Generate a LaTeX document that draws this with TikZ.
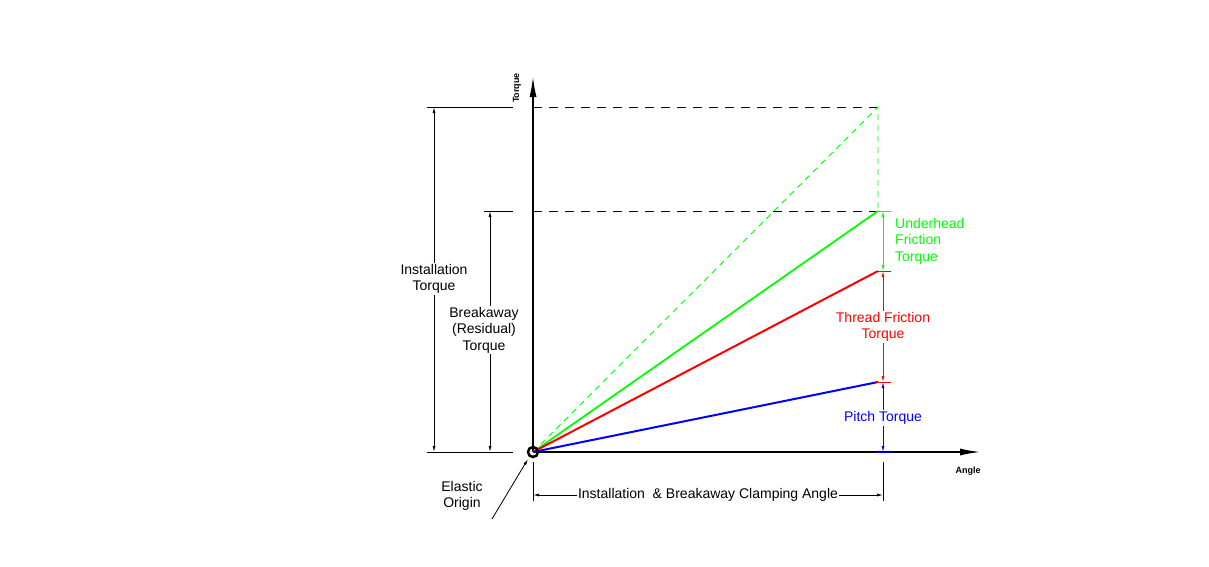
\documentclass[tikz,border=0pt]{standalone}
\usepackage{fontspec}
\setmainfont{Liberation Sans}
\usetikzlibrary{arrows.meta}

\begin{document}
\begin{tikzpicture}[x=1pt, y=-1pt,
   axis/.style = {line width=2.2pt, -{Latex[length=22pt,width=7pt]}},
    dim/.style = {line width=0.8pt, {Latex[length=6pt,width=3pt]}-{Latex[length=6pt,width=3pt]}},
    ext/.style = {line width=0.8pt},
   tick/.style = {line width=0.8pt},
    txt/.style = {font=\fontsize{14}{16.5}\selectfont, align=center,
                  inner sep=1pt},
   ctxt/.style = {txt, fill=white},
  small/.style = {font=\bfseries\fontsize{9}{10}\selectfont, inner sep=0pt}
                    ]
\useasboundingbox (0,0) rectangle (1209,566);
% axes
\coordinate (O)    at (533,452);
\coordinate (ytop) at (533,75);
\coordinate (xend) at (982,452);
\draw[axis] (O) -- (ytop);
\draw[axis] (O) -- (xend);
\node(torque) [small, rotate=90] at (517,88) {Torque};
\node(angle)  [small] at (968,471) {Angle};
% torque levels
\coordinate (inst) at (878,107);
\coordinate (brk)  at (878,211);
\coordinate (thr)  at (878,271);
\coordinate (pit)  at (878,382);
\draw[dashed, dash pattern=on 9pt off 7pt] (O |- inst) -- (inst);
\draw[dashed, dash pattern=on 9pt off 7pt] (O |- brk) -- (brk);
\draw[green, dashed, dash pattern=on 6pt off 5pt, line width=0.8pt] (O) -- (inst) -- (brk);
\draw[green, line width=1.8pt] (O) -- (brk);
\draw[red,   line width=2pt] (O) -- (thr);
\draw[blue,  line width=2pt] (O) -- (pit);
\draw[line width=2.5pt] (O) circle (5);
%
% left dimensions
\draw[ext] (427,107) -- (513,107);
\draw[ext] (484,211) -- (513,211);
\draw[ext] (427,452) -- (513,452);
\draw[dim] (434,107) -- (434,452);
\draw[dim] (490,211) -- (490,452);
\node(itorque) [ctxt] at (434,279) {Installation\\Torque};
\node(btorque) [ctxt] at (484,330) {Breakaway\\(Residual)\\Torque};
%
% right dimensions
\draw[green, dim] (883,211) -- (883,271);
\draw[red,   dim] (883,271) -- (883,382);
\draw[blue,  dim] (883,382) -- (883,452);
\draw[green, tick] (876,211) -- (891,211);
\draw[red,   tick] (876,271) -- (891,271);
\draw[red,   tick] (876,382) -- (891,382);
\draw[blue,  tick] (876,452) -- (891,452);
\node(uhf) [txt, text=green, align=left, anchor=west] at (894,241) {Underhead\\Friction\\Torque};
\node(thf) [ctxt, text=red]  at (883,327) {Thread Friction\\Torque};
\node(pt)  [ctxt, text=blue] at (883,418) {Pitch Torque};
%
% clamping angle
\draw[ext] (533,462) -- (533,501);
\draw[ext] (883,462) -- (883,501);
\draw[dim] (533,495) -- (883,495);
\node(clamp) [ctxt] at (708,495) {Installation \ \& Breakaway Clamping Angle};
%
% elastic origin
\node(eo) [txt] at (462,496) {Elastic\\Origin};
\draw[line width=0.8pt, -{Latex[length=6pt,width=3pt]}] (492,519) -- (528,459);
\end{tikzpicture}
\end{document}
